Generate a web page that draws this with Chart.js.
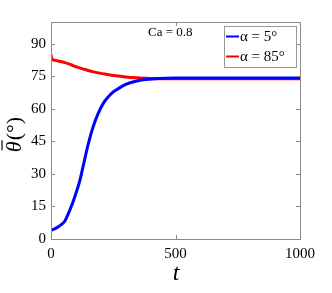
<!DOCTYPE html>
<html>
<head>
<meta charset="utf-8">
<script src="https://cdn.jsdelivr.net/npm/chart.js@4/dist/chart.umd.min.js"></script>
<style>
  html, body { margin: 0; padding: 0; background: #fff; }
  #wrap { width: 332px; height: 293px; }
</style>
</head>
<body>
<div id="wrap"><canvas id="c" width="332" height="293"></canvas></div>
<script>
// values
const tBlue = [0, 20, 40, 56, 65, 76, 96, 116, 130, 150, 170, 190, 210, 230, 250, 270, 300, 340, 380, 420, 460, 500, 600, 800, 1000];
const thetaBlue = [4, 5, 6.5, 8.3, 10.5, 13.4, 19.6, 27, 34, 44, 52, 58, 62.5, 65.5, 67.8, 69.3, 71.2, 72.7, 73.5, 73.9, 74.1, 74.2, 74.2, 74.2, 74.2];
const tRed = [0, 3, 10, 30, 56, 80, 100, 137, 170, 217, 260, 300, 350, 400, 500, 600, 800, 1000];
const thetaRed = [85, 83, 82.5, 82, 81.3, 80.3, 79.4, 78.1, 77, 76, 75.2, 74.7, 74.3, 74.0, 73.9, 73.9, 73.9, 73.9];
const yTicks = [0, 15, 30, 45, 60, 75, 90];
const xTicks = [0, 500, 1000];
const labelBlue = "α = 5°";
const labelRed = "α = 85°";
const note = "Ca = 0.8";

const SERIF = "'Liberation Serif', 'DejaVu Serif', serif";
const AXIS = "#8c8c8c";

function pts(xs, ys) {
  return xs.map((x, i) => ({ x, y: ys[i] }));
}

// frame, inward ticks, legend, titles
const decor = {
  id: "decor",
  afterDraw(chart) {
    const { ctx, chartArea: a, scales } = chart;
    const tl = 4;
    ctx.save();
    ctx.strokeStyle = AXIS;
    ctx.lineWidth = 1;
    ctx.strokeRect(a.left + 0.5, a.top + 0.5, a.right - a.left, a.bottom - a.top);
    ctx.beginPath();
    yTicks.forEach(v => {
      const y = Math.round(scales.y.getPixelForValue(v)) + 0.5;
      ctx.moveTo(a.left, y); ctx.lineTo(a.left + tl, y);
      ctx.moveTo(a.right, y); ctx.lineTo(a.right - tl, y);
    });
    xTicks.forEach(v => {
      const x = Math.round(scales.x.getPixelForValue(v)) + 0.5;
      ctx.moveTo(x, a.bottom); ctx.lineTo(x, a.bottom - tl);
      ctx.moveTo(x, a.top); ctx.lineTo(x, a.top + tl);
    });
    ctx.stroke();

    // legend box
    const bx = 224.5, by = 26.5, bw = 72, bh = 41;
    ctx.fillStyle = "#fff";
    ctx.fillRect(bx, by, bw, bh);
    ctx.strokeStyle = "#999";
    ctx.strokeRect(bx, by, bw, bh);
    const rows = [
      { label: labelBlue, color: "#0000ff", y: 36.5 },
      { label: labelRed, color: "#ff0000", y: 56.5 }
    ];
    ctx.font = "15px " + SERIF;
    ctx.textBaseline = "middle";
    ctx.textAlign = "left";
    rows.forEach(r => {
      ctx.strokeStyle = r.color;
      ctx.lineWidth = 2;
      ctx.beginPath();
      ctx.moveTo(226, r.y); ctx.lineTo(239, r.y);
      ctx.stroke();
      ctx.fillStyle = "#000";
      ctx.fillText(r.label, 240, r.y + 1);
    });

    // annotation
    ctx.font = "13px " + SERIF;
    ctx.fillText(note, 148, 33);

    // x title
    ctx.font = "italic 24px " + SERIF;
    ctx.textAlign = "center";
    ctx.fillText("t", 176, 274);

    // y title: italic theta with a bar, then (°)
    ctx.translate(15, 135);
    ctx.rotate(-Math.PI / 2);
    ctx.textAlign = "left";
    const th = "θ";
    const rest = "(°)";
    ctx.font = "italic 22px " + SERIF;
    const w1 = ctx.measureText(th).width;
    ctx.font = "22px " + SERIF;
    const w2 = ctx.measureText(rest).width;
    const x0 = -(w1 + w2) / 2;
    ctx.font = "italic 22px " + SERIF;
    ctx.fillText(th, x0, 0);
    ctx.lineWidth = 1.2;
    ctx.strokeStyle = "#000";
    ctx.beginPath();
    ctx.moveTo(x0 + 2, -13); ctx.lineTo(x0 + w1 + 1, -13);
    ctx.stroke();
    ctx.font = "22px " + SERIF;
    ctx.fillText(rest, x0 + w1 + 1, 0);
    ctx.restore();
  }
};

new Chart(document.getElementById("c"), {
  type: "line",
  data: {
    datasets: [
      {
        label: labelBlue,
        data: pts(tBlue, thetaBlue),
        borderColor: "#0000ff",
        borderWidth: 3,
        pointRadius: 0,
        cubicInterpolationMode: "monotone",
        order: 0
      },
      {
        label: labelRed,
        data: pts(tRed, thetaRed),
        borderColor: "#ff0000",
        borderWidth: 3,
        pointRadius: 0,
        cubicInterpolationMode: "monotone",
        order: 1
      }
    ]
  },
  options: {
    responsive: false,
    animation: false,
    layout: { padding: { top: 22, right: 32, left: 0, bottom: 0 } },
    plugins: { legend: { display: false }, tooltip: { enabled: false } },
    scales: {
      x: {
        type: "linear",
        min: 0,
        max: 1000,
        grid: { display: false, drawTicks: false },
        border: { display: false },
        afterBuildTicks: s => { s.ticks = xTicks.map(v => ({ value: v })); },
        afterFit: s => { s.height = 54; },
        ticks: {
          color: "#000", padding: 6, maxRotation: 0,
          font: { family: SERIF, size: 15 },
          callback: v => String(v)
        }
      },
      y: {
        min: 0,
        max: 100,
        grid: { display: false, drawTicks: false },
        border: { display: false },
        afterBuildTicks: s => { s.ticks = yTicks.map(v => ({ value: v })); },
        afterFit: s => { s.width = 51; },
        ticks: {
          color: "#000", padding: 5,
          font: { family: SERIF, size: 15 },
          callback: v => String(v)
        }
      }
    }
  },
  plugins: [decor]
});
</script>
</body>
</html>
